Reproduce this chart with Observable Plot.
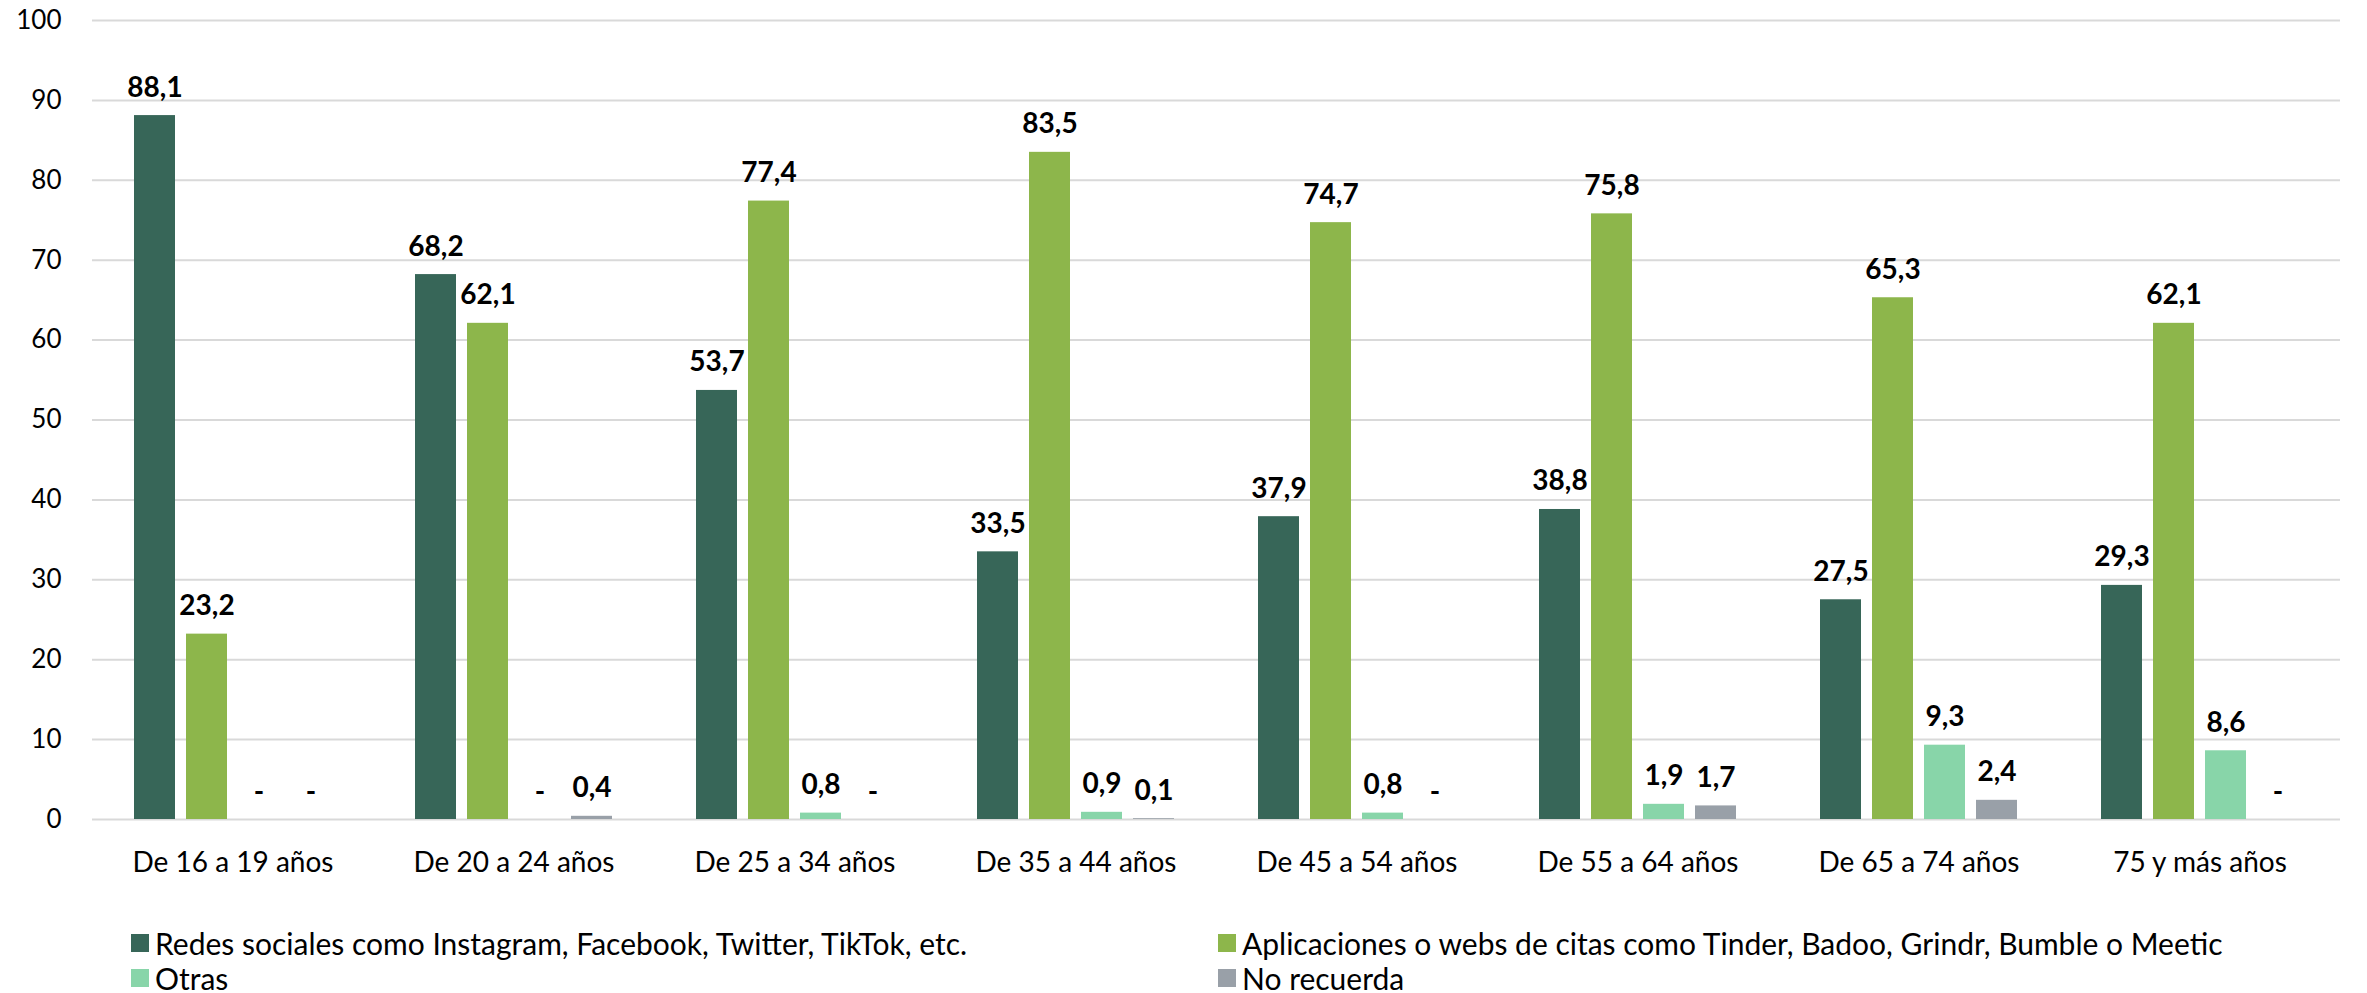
<!DOCTYPE html>
<html>
<head>
<meta charset="utf-8">
<script src="https://cdn.jsdelivr.net/npm/d3@7"></script>
<script src="https://cdn.jsdelivr.net/npm/@observablehq/plot@0.6"></script>
<style>
  html, body { margin: 0; padding: 0; background: #fff; overflow: hidden; }
  #wrap { position: relative; width: 2367px; height: 993px; font-family: Lato, "Open Sans", sans-serif; }
  #legend { position: absolute; left: 0; top: 929px; width: 2367px; font-size: 30px; color: #000; }
  .item { position: absolute; display: flex; align-items: center; white-space: nowrap; line-height: 28px; height: 28px; }
  .sw { width: 18px; height: 18px; margin-right: 6px; display: inline-block; }
</style>
</head>
<body>
<div id="wrap"><div id="chart"></div><div id="legend"></div></div>
<script>
const groups = ["De 16 a 19 años", "De 20 a 24 años", "De 25 a 34 años", "De 35 a 44 años", "De 45 a 54 años", "De 55 a 64 años", "De 65 a 74 años", "75 y más años"];
const series = ["Redes sociales como Instagram, Facebook, Twitter, TikTok, etc.", "Aplicaciones o webs de citas como Tinder, Badoo, Grindr, Bumble o Meetic", "Otras", "No recuerda"];
const colors = ["#376658", "#8db64b", "#88d5a9", "#99a0a8"];
const redes = [88.1, 68.2, 53.7, 33.5, 37.9, 38.8, 27.5, 29.3];
const apps = [23.2, 62.1, 77.4, 83.5, 74.7, 75.8, 65.3, 62.1];
const otras = [null, null, 0.8, 0.9, 0.8, 1.9, 9.3, 8.6];
const noRecuerda = [null, 0.4, null, 0.1, null, 1.7, 2.4, null];
const yTicks = [0, 10, 20, 30, 40, 50, 60, 70, 80, 90, 100];

const valuesBySeries = [redes, apps, otras, noRecuerda];
const data = groups.flatMap((g, i) => series.map((s, j) => ({group: g, series: s, value: valuesBySeries[j][i]})));
const fmt = v => v.toFixed(1).replace(".", ",");

const chart = Plot.plot({
  width: 2367,
  height: 905,
  marginLeft: 91,
  marginRight: 27,
  marginTop: 20,
  marginBottom: 86,
  style: {fontFamily: "Lato, 'Open Sans', sans-serif", color: "#000", background: "#fff"},
  fx: {domain: groups, paddingInner: 0, paddingOuter: 0, label: null},
  x: {domain: series, paddingInner: 0.21, paddingOuter: 0.8, axis: null},
  y: {domain: [0, 100], label: null},
  color: {domain: series, range: colors},
  marks: [
    Plot.ruleY(yTicks, {y: d => d, stroke: "#d9d9d9", strokeWidth: 2}),
    Plot.axisY({ticks: yTicks, tickSize: 0, tickPadding: 31, fontSize: 26, label: null}),
    Plot.axisFx({anchor: "bottom", tickSize: 0, tickPadding: 33, fontSize: 28, label: null}),
    Plot.barY(data.filter(d => d.value != null), {fx: "group", x: "series", y: "value", fill: "series"}),
    Plot.text(data, {
      fx: "group", x: "series", y: d => d.value ?? 0,
      text: d => d.value == null ? "-" : fmt(d.value),
      lineAnchor: "bottom", dy: -19, fontSize: 28, fontWeight: "bold", fill: "#000"
    })
  ]
});
document.getElementById("chart").appendChild(chart);

const legend = document.getElementById("legend");
const pos = [[131, 0], [1218, 0], [131, 35], [1218, 35]];
series.forEach((s, i) => {
  const it = document.createElement("div");
  it.className = "item";
  it.style.left = pos[i][0] + "px";
  it.style.top = pos[i][1] + "px";
  it.innerHTML = `<span class="sw" style="background:${colors[i]}"></span><span>${s}</span>`;
  legend.appendChild(it);
});
</script>
</body>
</html>
